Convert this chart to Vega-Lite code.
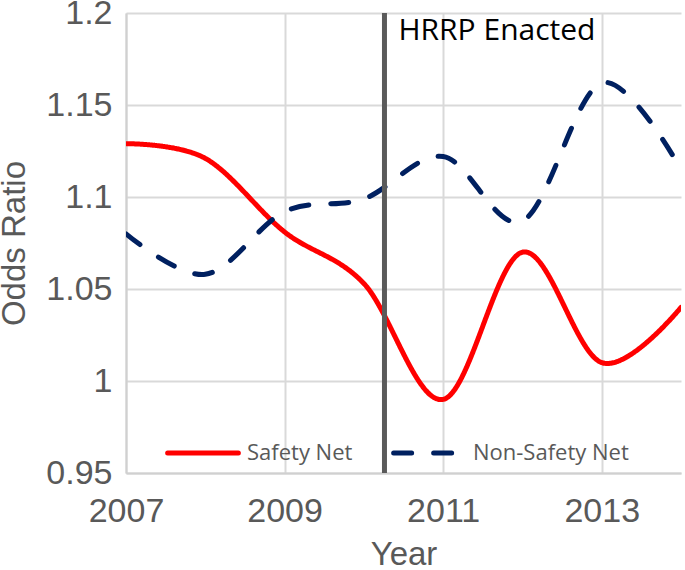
{
  "$schema": "https://vega.github.io/schema/vega-lite/v6.json",
  "width": 555,
  "height": 460,
  "autosize": {"type": "none"},
  "padding": {"left": 126, "top": 13, "right": 4, "bottom": 97},
  "background": "white",
  "config": {
    "view": {"stroke": null},
    "axis": {
      "gridColor": "#d9d9d9",
      "gridWidth": 2,
      "domainColor": "#d0d0d0",
      "domainWidth": 2,
      "ticks": false,
      "labelFlush": false,
      "labelFont": "Liberation Sans",
      "labelFontSize": 34,
      "labelColor": "#595959",
      "titleFont": "Liberation Sans",
      "titleFontSize": 33,
      "titleColor": "#595959",
      "titleFontWeight": "normal"
    }
  },
  "layer": [
    {
      "data": {
        "values": [
          {"year": 2007, "series": "Safety Net", "odds": 1.129},
          {"year": 2008, "series": "Safety Net", "odds": 1.121},
          {"year": 2009, "series": "Safety Net", "odds": 1.081},
          {"year": 2010, "series": "Safety Net", "odds": 1.053},
          {"year": 2011, "series": "Safety Net", "odds": 0.990},
          {"year": 2012, "series": "Safety Net", "odds": 1.070},
          {"year": 2013, "series": "Safety Net", "odds": 1.010},
          {"year": 2014, "series": "Safety Net", "odds": 1.040},
          {"year": 2007, "series": "Non-Safety Net", "odds": 1.080},
          {"year": 2008, "series": "Non-Safety Net", "odds": 1.058},
          {"year": 2009, "series": "Non-Safety Net", "odds": 1.092},
          {"year": 2010, "series": "Non-Safety Net", "odds": 1.099},
          {"year": 2011, "series": "Non-Safety Net", "odds": 1.122},
          {"year": 2012, "series": "Non-Safety Net", "odds": 1.087},
          {"year": 2013, "series": "Non-Safety Net", "odds": 1.162},
          {"year": 2014, "series": "Non-Safety Net", "odds": 1.115}
        ]
      },
      "mark": {"type": "line", "interpolate": "cardinal", "strokeWidth": 5, "strokeCap": "round", "clip": true},
      "encoding": {
        "x": {
          "field": "year", "type": "quantitative",
          "scale": {"domain": [2007, 2014], "nice": false, "zero": false},
          "axis": {"values": [2007, 2009, 2011, 2013], "format": "d", "labelPadding": 21, "title": "Year", "titlePadding": 10}
        },
        "y": {
          "field": "odds", "type": "quantitative",
          "scale": {"domain": [0.95, 1.2], "nice": false, "zero": false},
          "axis": {"values": [0.95, 1.0, 1.05, 1.1, 1.15, 1.2], "format": ".2~f", "labelPadding": 14, "title": "Odds Ratio", "titlePadding": 14}
        },
        "color": {
          "field": "series", "type": "nominal",
          "scale": {"domain": ["Safety Net", "Non-Safety Net"], "range": ["#ff0000", "#002060"]},
          "legend": {
            "orient": "none", "legendX": 39, "legendY": 402, "direction": "horizontal",
            "title": null, "symbolType": "stroke", "symbolSize": 5000, "symbolStrokeWidth": 5,
            "labelFont": "Open Sans", "labelFontSize": 22, "labelColor": "#595959",
            "labelOffset": 6, "columnPadding": 30,
            "encode": {"symbols": {"update": {"strokeCap": {"value": "round"}}}}
          }
        },
        "strokeDash": {
          "field": "series", "type": "nominal",
          "scale": {"domain": ["Safety Net", "Non-Safety Net"], "range": [[1, 0], [18, 22]]},
          "legend": {
            "orient": "none", "legendX": 39, "legendY": 402, "direction": "horizontal",
            "title": null, "symbolType": "stroke", "symbolSize": 5000, "symbolStrokeWidth": 5,
            "labelFont": "Open Sans", "labelFontSize": 22, "labelColor": "#595959",
            "labelOffset": 6, "columnPadding": 30,
            "encode": {"symbols": {"update": {"strokeCap": {"value": "round"}}}}
          }
        }
      }
    },
    {
      "data": {"values": [{"year": 2010.26, "label": "HRRP Enacted", "top": 1.2}]},
      "mark": {"type": "rule", "color": "#5a5a5a", "strokeWidth": 5},
      "encoding": {"x": {"field": "year", "type": "quantitative"}}
    },
    {
      "data": {"values": [{"year": 2010.26, "label": "HRRP Enacted", "top": 1.2}]},
      "mark": {"type": "text", "align": "left", "baseline": "top", "dx": 14, "dy": 3, "font": "Open Sans", "fontSize": 30, "color": "#000000"},
      "encoding": {
        "x": {"field": "year", "type": "quantitative"},
        "y": {"field": "top", "type": "quantitative"},
        "text": {"field": "label"}
      }
    }
  ]
}
